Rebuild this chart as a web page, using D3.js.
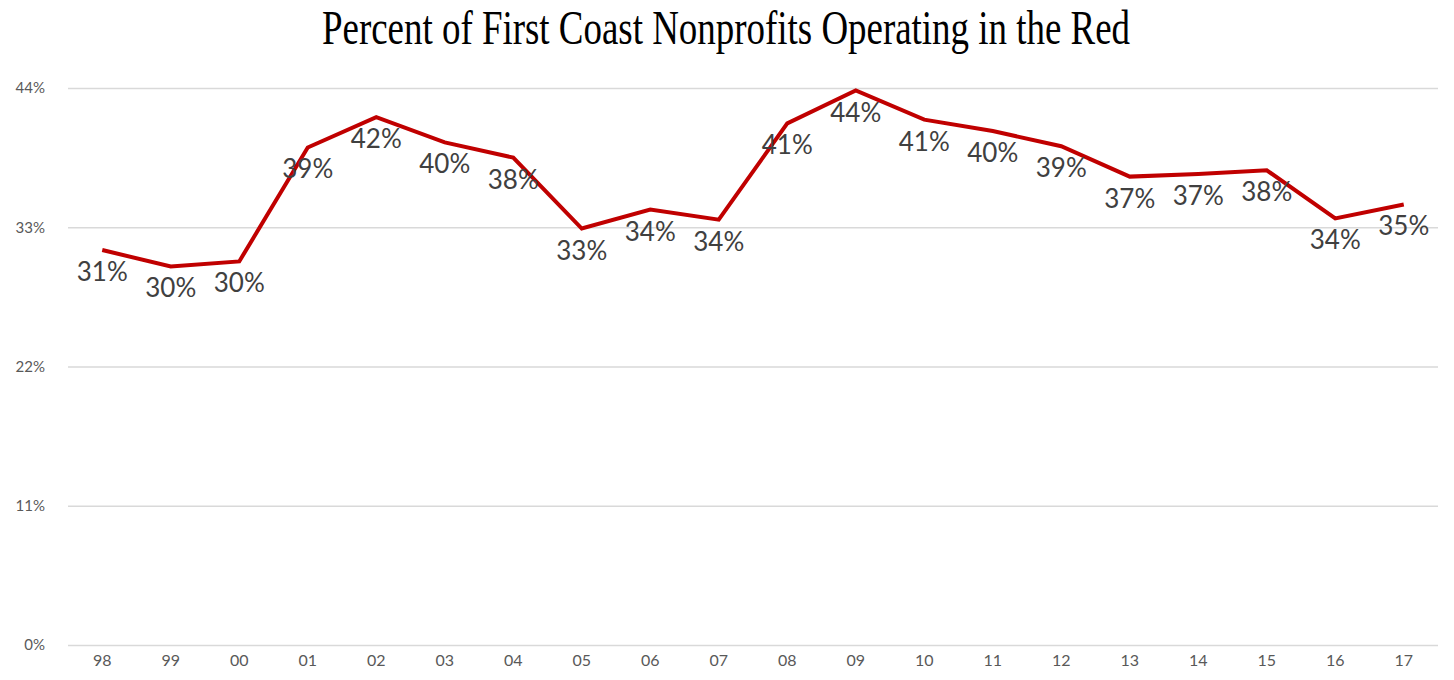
<!DOCTYPE html>
<html><head><meta charset="utf-8">
<script src="https://cdn.jsdelivr.net/npm/d3@7"></script>
<style>body{margin:0;background:#fff;}svg{display:block;}</style>
</head><body>
<svg id="c" width="1454" height="680"></svg>
<script>
const years = ["98","99","00","01","02","03","04","05","06","07","08","09","10","11","12","13","14","15","16","17"];
const values = [31.2,29.9,30.3,39.3,41.7,39.7,38.5,32.9,34.4,33.6,41.2,43.8,41.5,40.6,39.4,37.0,37.2,37.5,33.7,34.8];
const labels = ["31%","30%","30%","39%","42%","40%","38%","33%","34%","34%","41%","44%","41%","40%","39%","37%","37%","38%","34%","35%"];
const yTicks = [0,11,22,33,44];
const title = "Percent of First Coast Nonprofits Operating in the Red";

const svg = d3.select("#c");
const x = d3.scaleBand().domain(years).range([68,1438]);
const y = d3.scaleLinear().domain([0,44]).range([645,88]);

svg.append("text").attr("x",726).attr("y",44).attr("text-anchor","middle")
  .attr("font-family","Liberation Serif").attr("font-size",48).attr("fill","#000")
  .attr("textLength",808).attr("lengthAdjust","spacingAndGlyphs").text(title);

const yAxis = svg.append("g").attr("transform","translate(68,0)")
  .call(d3.axisLeft(y).tickValues(yTicks).tickSize(-1370).tickFormat(d=>d+"%"));
yAxis.select(".domain").remove();
yAxis.selectAll("line").attr("stroke","#d9d9d9").attr("stroke-width",1.5);
yAxis.selectAll("text").attr("x",-23).attr("font-family","Lato").attr("font-size",15).attr("fill","#595959");

const xAxis = svg.append("g").attr("transform","translate(0,645)")
  .call(d3.axisBottom(x).tickSize(0).tickPadding(10));
xAxis.select(".domain").remove();
xAxis.selectAll("text").attr("font-family","Lato").attr("font-size",16).attr("fill","#595959");

const cx = d => x(d)+x.bandwidth()/2;
const line = d3.line().x((d,i)=>cx(years[i])).y(d=>y(d));
svg.append("path").datum(values).attr("d",line).attr("fill","none")
  .attr("stroke","#C00000").attr("stroke-width",4).attr("stroke-linejoin","miter");

svg.append("g").selectAll("text").data(values).join("text")
  .attr("x",(d,i)=>cx(years[i])).attr("y",d=>y(d)+31)
  .attr("text-anchor","middle").attr("font-family","Lato").attr("font-size",26).attr("fill","#404040")
  .text((d,i)=>labels[i]);
</script>
</body></html>
